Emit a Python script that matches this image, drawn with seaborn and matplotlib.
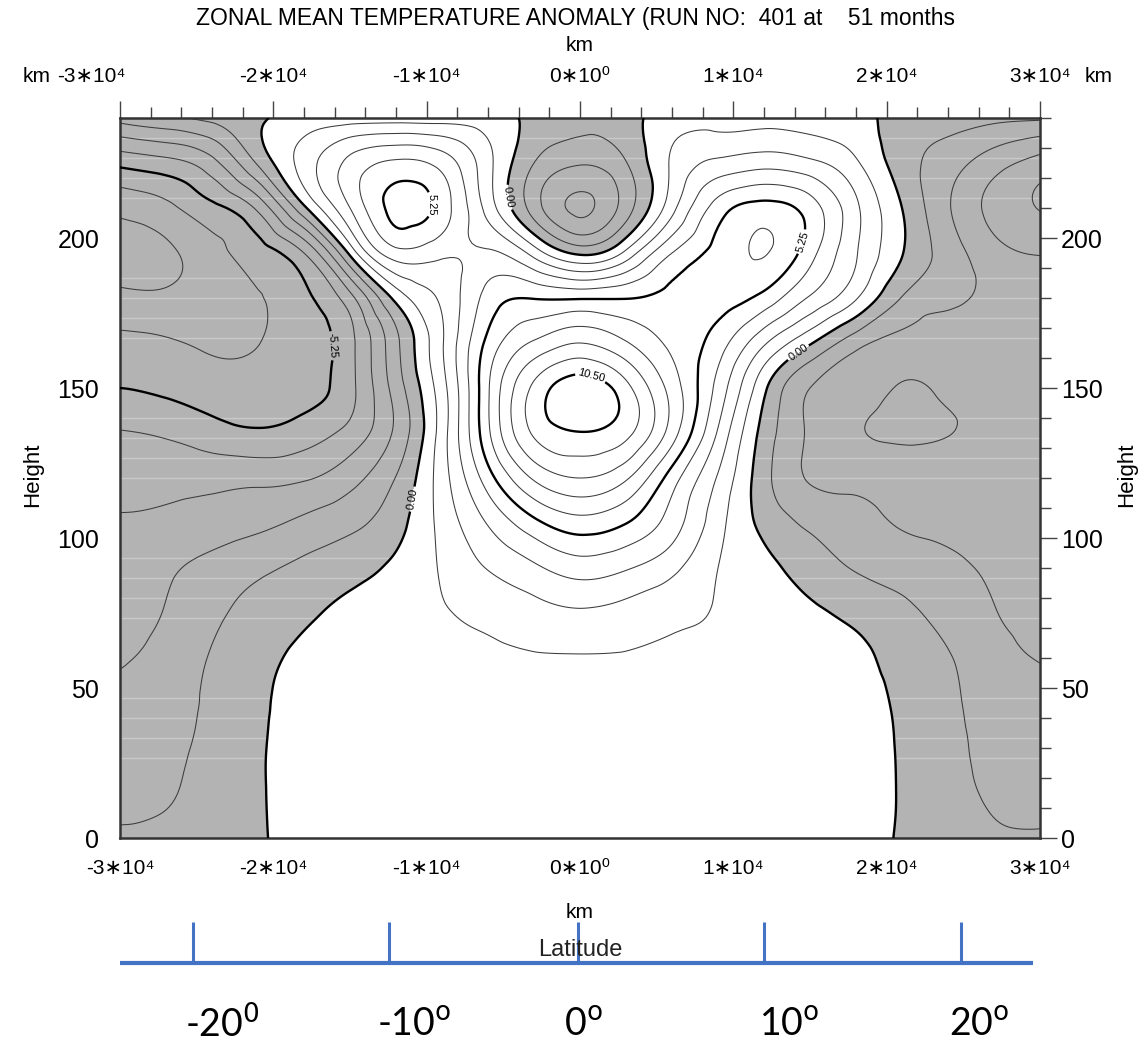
import numpy as np
import matplotlib
matplotlib.use("Agg")

import matplotlib.pyplot as plt
import matplotlib.tri as mtri
from matplotlib.ticker import MultipleLocator, FixedLocator, FuncFormatter
import seaborn as sns


# ==============================
# DATA (anomaly, contour step 1.05)
# ==============================
X_KM = [-30000, -27000, -24000, -21000, -18000, -15000, -12000, -9000, -6000, -3000, 0,
        3000, 6000, 9000, 12000, 15000, 18000, 21000, 24000, 27000, 30000]
HEIGHTS = [0, 15, 30, 45, 60, 75, 90, 105, 120, 135, 150, 165, 180, 195, 210, 225, 240]

T_H000 = [-0.98, -0.90, -0.70, -0.12, 0.30, 0.45, 0.50, 0.50, 0.40, 0.28, 0.18, 0.15, 0.18, 0.30, 0.45, 0.50, 0.35, -0.10, -0.62, -0.95, -1.00]
T_H015 = [-1.25, -1.13, -0.69, -0.10, 0.35, 0.50, 0.55, 0.55, 0.45, 0.32, 0.22, 0.20, 0.24, 0.35, 0.50, 0.50, 0.35, -0.07, -0.68, -1.18, -1.25]
T_H030 = [-1.57, -1.35, -0.74, -0.11, 0.40, 0.55, 0.60, 0.60, 0.55, 0.45, 0.40, 0.38, 0.42, 0.50, 0.55, 0.55, 0.40, -0.09, -0.72, -1.38, -1.56]
T_H045 = [-1.88, -1.58, -0.83, -0.18, 0.40, 0.55, 0.65, 0.70, 0.70, 0.65, 0.62, 0.62, 0.65, 0.65, 0.60, 0.55, 0.40, -0.16, -0.79, -1.60, -1.87]
T_H060 = [-2.19, -1.74, -0.97, -0.33, 0.25, 0.50, 0.65, 0.80, 0.90, 0.98, 1.00, 0.98, 0.90, 0.80, 0.65, 0.50, 0.25, -0.38, -0.97, -1.77, -2.13]
T_H075 = [-2.47, -2.04, -1.28, -0.69, -0.18, 0.24, 0.61, 0.98, 1.30, 1.70, 1.95, 1.70, 1.30, 0.98, 0.58, 0.19, -0.27, -0.81, -1.41, -2.06, -2.24]
T_H090 = [-2.75, -2.28, -1.78, -1.27, -0.80, -0.35, 0.21, 1.16, 2.15, 2.95, 3.65, 3.25, 2.38, 1.05, 0.27, -0.47, -1.13, -1.51, -1.88, -2.23, -2.40]
T_H105 = [-3.04, -2.90, -2.65, -2.35, -1.86, -1.32, -0.38, 1.38, 3.23, 4.95, 5.87, 5.28, 3.68, 1.44, -0.28, -1.25, -1.74, -2.18, -2.30, -2.42, -2.55]
T_H120 = [-3.52, -3.48, -3.48, -3.43, -3.26, -2.49, -1.01, 1.61, 4.77, 7.50, 8.40, 7.50, 4.72, 1.99, -0.67, -2.18, -2.40, -2.60, -2.65, -2.67, -2.70]
T_H135 = [-4.13, -4.35, -4.82, -5.11, -4.75, -3.84, -1.87, 1.58, 6.08, 9.60, 10.45, 9.75, 6.80, 3.03, -0.40, -2.25, -3.05, -3.30, -3.17, -2.95, -2.80]
T_H150 = [-5.25, -5.46, -5.77, -5.80, -5.60, -4.50, -1.63, 1.68, 6.17, 9.69, 11.10, 9.80, 6.90, 3.85, 0.23, -2.10, -2.80, -3.20, -3.05, -2.95, -2.88]
T_H165 = [-6.01, -6.19, -6.45, -6.33, -5.70, -4.50, -1.31, 1.99, 5.54, 7.50, 8.40, 7.45, 6.06, 4.72, 2.26, 0.12, -1.72, -2.50, -2.70, -2.85, -2.95]
T_H180 = [-7.14, -7.16, -6.85, -6.40, -5.45, -3.52, 0.33, 2.30, 4.60, 5.20, 5.15, 5.20, 5.50, 5.60, 4.90, 3.03, 1.15, -1.10, -1.85, -2.50, -3.05]
T_H195 = [-7.60, -7.50, -6.72, -5.71, -4.20, 0.25, 3.80, 3.40, 3.30, 1.67, -0.22, 1.33, 4.20, 5.60, 6.35, 4.60, 2.18, 0.05, -1.55, -2.79, -3.20]
T_H210 = [-7.10, -6.60, -5.53, -3.96, -0.23, 3.15, 5.60, 4.75, 1.68, -1.55, -3.35, -1.55, 1.75, 4.70, 5.65, 4.73, 2.31, 0.00, -1.99, -3.48, -4.25]
T_H225 = [-4.98, -4.56, -3.50, -0.90, 1.50, 3.45, 4.40, 3.80, 1.37, -1.05, -2.00, -1.10, 1.19, 2.35, 2.75, 2.35, 1.20, -0.53, -1.62, -2.70, -3.57]
T_H240 = [-1.70, -1.25, -0.75, -0.15, 0.40, 0.50, 0.55, 0.55, 0.45, -0.25, -0.70, -0.30, 0.45, 0.60, 0.65, 0.55, 0.30, -0.35, -0.60, -0.80, -0.90]

ROWS = [T_H000, T_H015, T_H030, T_H045, T_H060, T_H075, T_H090, T_H105, T_H120,
        T_H135, T_H150, T_H165, T_H180, T_H195, T_H210, T_H225, T_H240]

KM_TICKS = [-30000, -20000, -10000, 0, 10000, 20000, 30000]

CONTOUR_STEP = 1.05
THICK_LEVELS = [-5.25, 0.0, 5.25, 10.5]

LAT_LABELS = ["-20$^0$", "-10$^\\mathrm{o}$", "0$^\\mathrm{o}$", "10$^\\mathrm{o}$", "20$^\\mathrm{o}$"]
LAT_TICK_KM = [-25240, -12460, -130, 12000, 24850]
LAT_LABEL_KM = [-23350, -10830, 200, 13630, 26020]

# where the thick contours carry their labels (km, height)
LABEL_SPOTS = [(-10240, 211), (-4110, 214), (-16300, 164), (-10960, 113),
               (650, 153), (14350, 199), (14350, 161)]

GRAY = "#b3b3b3"
BLUE = "#4472c4"


# ==============================
# STYLE
# ==============================
sns.set_theme(style="white")
plt.rcParams["font.family"] = ["Liberation Sans", "DejaVu Sans"]
plt.rcParams["text.color"] = "black"
plt.rcParams["contour.negative_linestyle"] = "solid"

W, H = 1142, 1048
fig = plt.figure(figsize=(W / 100, H / 100), dpi=100)
ax = fig.add_axes([120 / W, 210 / H, 920 / W, 720 / H])


# ==============================
# FIELD + CONTOURS
# ==============================
xg, hg = np.meshgrid(X_KM, HEIGHTS)
field = np.array(ROWS)

tri = mtri.Triangulation(xg.ravel(), hg.ravel())
refiner = mtri.UniformTriRefiner(tri)
tri_f, z_f = refiner.refine_field(field.ravel(), subdiv=4)

ax.tricontourf(tri_f, z_f, levels=[-50, 0, 50], colors=[GRAY, "white"], zorder=1)

# faint scan stripes that show through the shaded area
for g in range(5):
    for k in range(4):
        ax.axhline(233.3 - g * 46.67 - k * 6.67, color="white", alpha=0.3, lw=1.0, zorder=1.5)

levels = np.round(np.arange(-7, 11) * CONTOUR_STEP, 2)
thin = [l for l in levels if l not in THICK_LEVELS]

ax.tricontour(tri_f, z_f, levels=thin, colors="#3c3c3c", linewidths=0.75,
              linestyles="solid", zorder=2)
cs = ax.tricontour(tri_f, z_f, levels=THICK_LEVELS, colors="black", linewidths=1.7,
                   linestyles="solid", zorder=3)
ax.clabel(cs, fmt="%.2f", fontsize=8, inline=True, inline_spacing=2, manual=LABEL_SPOTS)


# ==============================
# AXES
# ==============================
ax.set_xlim(-30000, 30000)
ax.set_ylim(0, 240)


def km_fmt(v, pos):
    n = int(round(v / 10000))
    if n == 0:
        return "0\u221710\u2070"
    return f"{n}\u221710\u2074"


def km_fmt_top(v, pos):
    # the left-most top label is written separately, pushed against the "km" tag
    if v <= -29999:
        return ""
    return km_fmt(v, pos)


ax.xaxis.set_major_locator(FixedLocator(KM_TICKS))
ax.xaxis.set_minor_locator(MultipleLocator(2000))
ax.xaxis.set_major_formatter(FuncFormatter(km_fmt))
ax.yaxis.set_major_locator(MultipleLocator(50))
ax.yaxis.set_minor_locator(MultipleLocator(10))

ax.tick_params(which="both", direction="out", top=False, right=True,
               labelright=True, color="#444444", width=1.0, labelcolor="black")
ax.tick_params(which="major", length=12)
ax.tick_params(which="minor", length=8)
ax.tick_params(axis="x", labelsize=15, pad=3)
ax.tick_params(axis="y", labelsize=18, pad=3)

top = ax.secondary_xaxis("top")
top.xaxis.set_major_locator(FixedLocator(KM_TICKS))
top.xaxis.set_minor_locator(MultipleLocator(2000))
top.xaxis.set_major_formatter(FuncFormatter(km_fmt_top))
top.tick_params(which="both", direction="out", color="#444444", width=1.0,
                labelcolor="black", labelsize=15, pad=11)
top.tick_params(which="major", length=12)
top.tick_params(which="minor", length=8)
top.spines["top"].set_visible(False)

for s in ax.spines.values():
    s.set_linewidth(1.8)
    s.set_color("#333333")

ax.grid(False)

fig.text(575 / W, 1 - 18 / H, "ZONAL MEAN TEMPERATURE ANOMALY (RUN NO:  401 at    51 months",
         ha="center", va="center", fontsize=16.5)
fig.text(580 / W, 1 - 45 / H, "km", ha="center", va="center", fontsize=15)
fig.text(37 / W, 1 - 77 / H, "km", ha="center", va="center", fontsize=15)
fig.text(91 / W, 1 - 76 / H, km_fmt(-30000, 0), ha="center", va="center", fontsize=15)
fig.text(1099 / W, 1 - 77 / H, "km", ha="center", va="center", fontsize=15)
fig.text(580 / W, 1 - 912 / H, "km", ha="center", va="center", fontsize=15)
fig.text(33 / W, 1 - 475 / H, "Height", ha="center", va="center", rotation=90, fontsize=16)
fig.text(1127 / W, 1 - 475 / H, "Height", ha="center", va="center", rotation=90, fontsize=16)


# ==============================
# LATITUDE STRIP
# ==============================
ax_lat = fig.add_axes([120 / W, 0, 920 / W, 150 / H])
ax_lat.set_xlim(-30000, 30000)
ax_lat.set_ylim(0, 150)
ax_lat.axis("off")

ax_lat.plot([-30000, 29550], [85, 85], color=BLUE, lw=3, solid_capstyle="butt")
ax_lat.vlines(LAT_TICK_KM, 85, 126, color=BLUE, lw=2.2)
ax_lat.text(0, 98, "Latitude", ha="center", va="center", fontsize=17, color="#222222")

for km, lab in zip(LAT_LABEL_KM, LAT_LABELS):
    ax_lat.text(km, 23, lab, ha="center", va="center", fontsize=27,
                family=["Lato", "DejaVu Sans"])

fig.savefig("out.png", dpi=100)
plt.close(fig)
